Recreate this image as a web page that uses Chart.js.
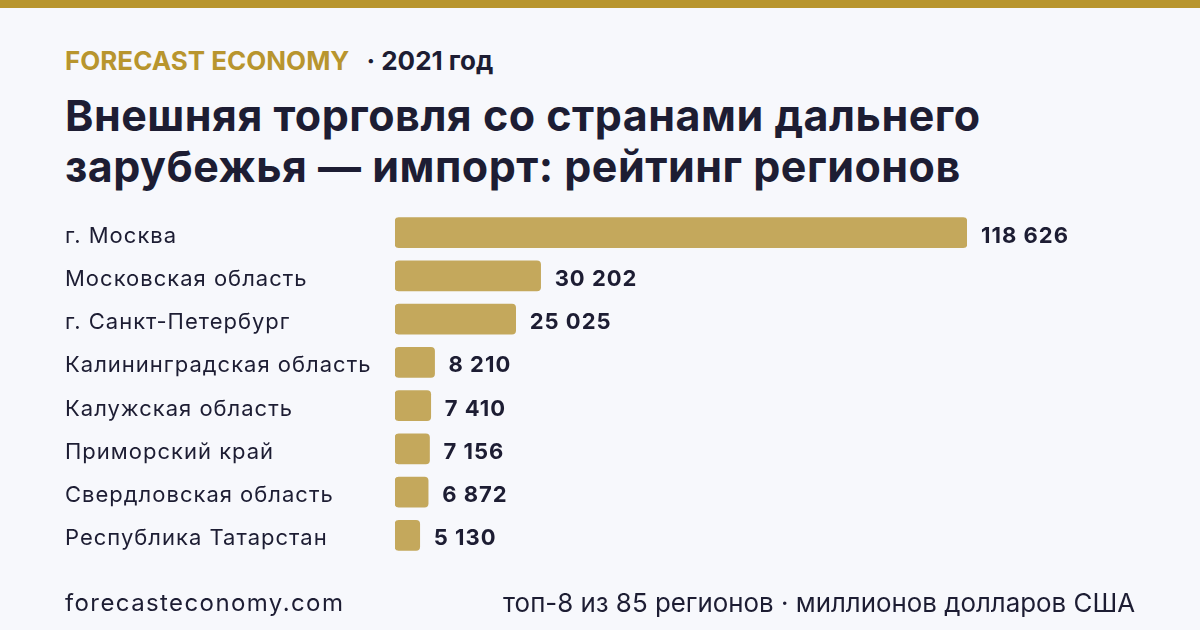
<!DOCTYPE html>
<html>
<head>
<meta charset="utf-8">
<script src="https://cdn.jsdelivr.net/npm/chart.js@4"></script>
<style>
  html, body { margin: 0; padding: 0; }
  body { width: 1200px; height: 630px; background: #f7f8fc; position: relative; overflow: hidden; font-family: Inter, "Noto Sans", sans-serif; color: #1d1d33; }
  .topbar { position: absolute; left: 0; top: 0; width: 1200px; height: 8px; background: #b8952e; }
  .kicker { position: absolute; left: 65px; top: 45px; font-size: 26px; font-weight: 700; white-space: nowrap; }
  .kicker .brand { color: #b8952e; }
  .kicker .year { margin-left: 17px; }
  .title { position: absolute; left: 65px; top: 90px; font-size: 43px; font-weight: 700; line-height: 51px; letter-spacing: 0.5px; white-space: nowrap; }
  .foot { position: absolute; white-space: nowrap; }
  #wrap { position: absolute; left: 0; top: 0; width: 1200px; height: 630px; }
</style>
</head>
<body>
<div class="topbar"></div>
<div class="kicker"><span class="brand">FORECAST ECONOMY</span><span class="year">· 2021 год</span></div>
<div class="title">Внешняя торговля со странами дальнего<br>зарубежья — импорт: рейтинг регионов</div>
<div id="wrap"><canvas id="chart" width="1200" height="630"></canvas></div>
<div class="foot" style="left:65px; top:588px; font-size:24px; letter-spacing:1.4px">forecasteconomy.com</div>
<div class="foot" id="note" style="left:503px; top:587px; font-size:26px; transform-origin: left center;">топ-8 из 85 регионов · миллионов долларов США</div>

<script>
const regions = ['г. Москва', 'Московская область', 'г. Санкт-Петербург', 'Калининградская область',
  'Калужская область', 'Приморский край', 'Свердловская область', 'Республика Татарстан'];
const imports = [118626, 30202, 25025, 8210, 7410, 7156, 6872, 5130];

const fmt = (v) => String(v).replace(/\B(?=(\d{3})+(?!\d))/g, ' ');

// labels on the left and values after the bars
const labelsPlugin = {
  id: 'labels',
  afterDatasetsDraw(chart) {
    const ctx = chart.ctx;
    const yScale = chart.scales.y;
    const meta = chart.getDatasetMeta(0);
    ctx.save();
    ctx.textBaseline = 'alphabetic';
    ctx.textAlign = 'left';
    ctx.fillStyle = '#1d1d33';
    ctx.letterSpacing = '1px';
    regions.forEach((name, i) => {
      const y = yScale.getPixelForValue(i);
      ctx.font = '22px Inter';
      ctx.fillText(name, 65, y + 10);
      ctx.font = 'bold 22px Inter';
      ctx.fillText(fmt(imports[i]), meta.data[i].x + 14, y + 10);
    });
    ctx.restore();
  }
};

new Chart(document.getElementById('chart'), {
  type: 'bar',
  data: {
    labels: regions,
    datasets: [{
      data: imports,
      backgroundColor: '#c4a85c',
      borderRadius: 4,
      borderSkipped: false,
      barThickness: 30,
    }],
  },
  options: {
    indexAxis: 'y',
    responsive: false,
    animation: false,
    layout: { padding: { left: 395, right: 233, top: 211, bottom: 73 } },
    scales: {
      x: { display: false, min: 0, max: 118626 },
      y: { display: false },
    },
    plugins: { legend: { display: false }, tooltip: { enabled: false } },
  },
  plugins: [labelsPlugin],
});

// squeeze the note so it ends at the right margin
const note = document.getElementById('note');
const w = note.getBoundingClientRect().width;
note.style.transform = 'scaleX(' + (632 / w) + ')';
</script>
</body>
</html>
